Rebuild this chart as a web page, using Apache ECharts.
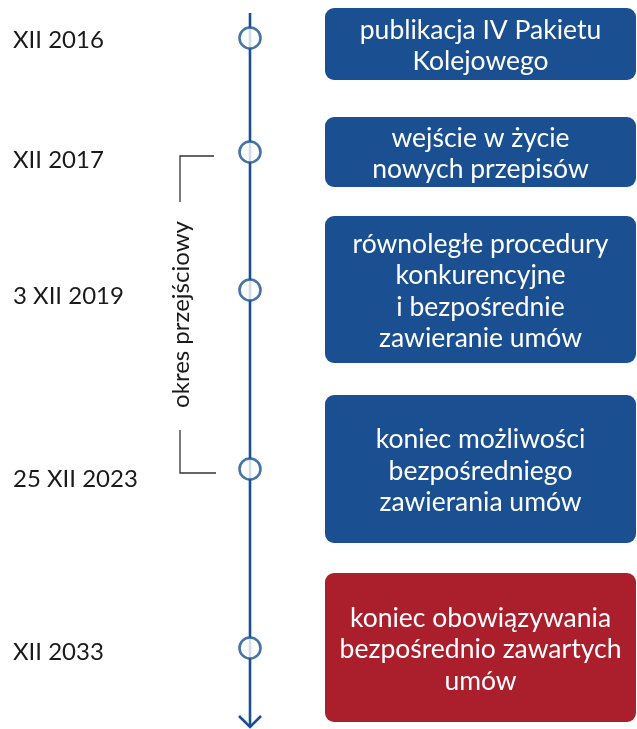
<!DOCTYPE html>
<html>
<head>
<meta charset="utf-8">
<script src="https://cdn.jsdelivr.net/npm/echarts@6/dist/echarts.min.js"></script>
<style>
  html, body { margin: 0; padding: 0; background: #fff; }
  #chart { width: 637px; height: 729px; }
</style>
</head>
<body>
<div id="chart"></div>
<script>
// dates on the timeline
const dates = ['XII 2016', 'XII 2017', '3 XII 2019', '25 XII 2023', 'XII 2033'];
// what happens at each date
const events = [
  'publikacja IV Pakietu\nKolejowego',
  'wejście w życie\nnowych przepisów',
  'równoległe procedury\nkonkurencyjne\ni bezpośrednie\nzawieranie umów',
  'koniec możliwości\nbezpośredniego\nzawierania umów',
  'koniec obowiązywania\nbezpośrednio zawartych\numów'
];
// position of each milestone along the timeline axis
const eventPos = [38, 152, 290, 469, 648];
const datePos = [40, 160, 296, 479, 652];
// extent of each description box along the timeline axis
const boxStart = [8, 117, 216, 395, 573];
const boxEnd = [80, 187, 363, 543, 722];
// timeline extent
const timelineRange = [13, 727];
// transition period bracket
const periodLabel = 'okres przejściowy';
const periodRange = [156, 473];

const BLUE = '#1a5091';
const RED = '#ab1f2c';
const FONT = 'Lato, "Noto Sans", sans-serif';

const chart = echarts.init(document.getElementById('chart'));

chart.setOption({
  animation: false,
  grid: { left: 0, right: 0, top: 0, bottom: 0 },
  xAxis: { type: 'value', min: 0, max: 637, show: false },
  yAxis: { type: 'value', min: 0, max: 729, inverse: true, show: false },
  series: [
    {
      // main timeline with arrow
      type: 'custom',
      name: 'timeline',
      data: [[250, timelineRange[0], timelineRange[1]]],
      renderItem: (params, api) => {
        const top = api.coord([api.value(0), api.value(1)]);
        const bot = api.coord([api.value(0), api.value(2)]);
        const style = { stroke: BLUE, lineWidth: 2.6, fill: null };
        return {
          type: 'group',
          children: [
            { type: 'line', shape: { x1: top[0], y1: top[1], x2: bot[0], y2: bot[1] }, style },
            {
              type: 'polyline',
              shape: { points: [[bot[0] - 11, bot[1] - 11], [bot[0], bot[1]], [bot[0] + 11, bot[1] - 11]] },
              style
            }
          ]
        };
      },
      z: 1
    },
    {
      type: 'scatter',
      name: 'milestones',
      data: eventPos.map(y => [250, y]),
      symbol: 'circle',
      symbolSize: 21,
      itemStyle: { color: '#fff', borderColor: BLUE, borderWidth: 2.6 },
      z: 3
    },
    {
      type: 'custom',
      name: 'dates',
      data: dates.map((d, i) => [13, datePos[i]]),
      renderItem: (params, api) => {
        const p = api.coord([api.value(0), api.value(1)]);
        return {
          type: 'text',
          x: p[0],
          y: p[1],
          style: {
            text: dates[params.dataIndex],
            fill: '#1a1a1a',
            font: '24px ' + FONT,
            align: 'left',
            verticalAlign: 'middle'
          }
        };
      }
    },
    {
      type: 'custom',
      name: 'events',
      data: events.map((e, i) => [325, boxStart[i], 636, boxEnd[i]]),
      renderItem: (params, api) => {
        const a = api.coord([api.value(0), api.value(1)]);
        const b = api.coord([api.value(2), api.value(3)]);
        const last = params.dataIndex === events.length - 1;
        return {
          type: 'group',
          children: [
            {
              type: 'rect',
              shape: { x: a[0], y: a[1], width: b[0] - a[0], height: b[1] - a[1], r: 9 },
              style: { fill: last ? RED : BLUE }
            },
            {
              type: 'text',
              x: (a[0] + b[0]) / 2,
              y: (a[1] + b[1]) / 2 + 2,
              style: {
                text: events[params.dataIndex],
                fill: '#fff',
                font: '26.5px ' + FONT,
                lineHeight: 31.5,
                align: 'center',
                verticalAlign: 'middle'
              }
            }
          ]
        };
      }
    },
    {
      type: 'custom',
      name: 'period',
      data: [[180, periodRange[0], periodRange[1]]],
      renderItem: (params, api) => {
        const a = api.coord([api.value(0), api.value(1)]);
        const b = api.coord([api.value(0), api.value(2)]);
        const mid = (a[1] + b[1]) / 2;
        const style = { stroke: '#333', lineWidth: 1.3, fill: null };
        return {
          type: 'group',
          children: [
            { type: 'polyline', shape: { points: [[a[0] + 34, a[1]], [a[0], a[1]], [a[0], a[1] + 46]] }, style },
            { type: 'polyline', shape: { points: [[b[0] + 36, b[1]], [b[0], b[1]], [b[0], b[1] - 43]] }, style },
            {
              type: 'text',
              x: a[0] + 1,
              y: mid,
              rotation: Math.PI / 2,
              style: {
                text: periodLabel,
                fill: '#1a1a1a',
                font: '24px ' + FONT,
                align: 'center',
                verticalAlign: 'middle'
              }
            }
          ]
        };
      }
    }
  ]
});
</script>
</body>
</html>
